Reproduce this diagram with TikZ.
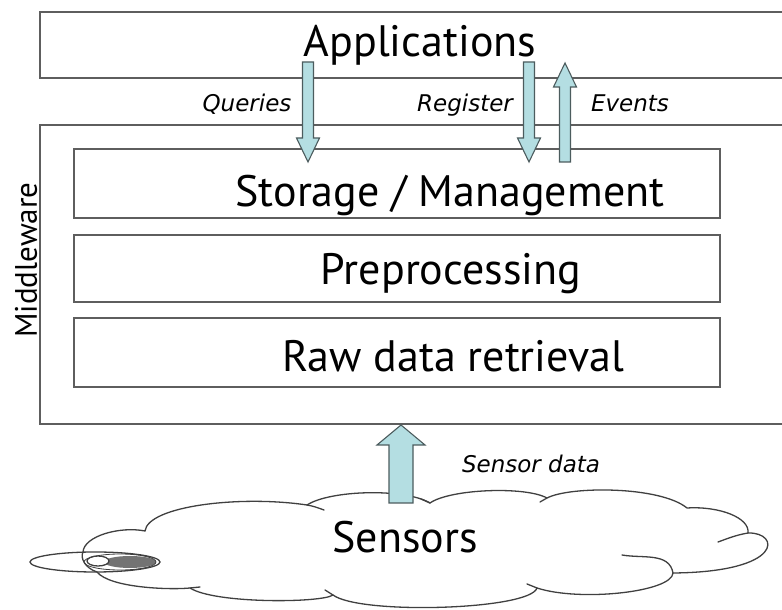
\documentclass[tikz,border=0pt]{standalone}
\usepackage{fontspec}
\setmainfont{PT Sans}
\newfontfamily\lblfont{DejaVu Sans}
\usetikzlibrary{calc}

\definecolor{framegray}{HTML}{5E5E5E}
\definecolor{arrowfill}{HTML}{B4DEE2}
\definecolor{arrowline}{HTML}{4C5C5E}
\definecolor{cloudline}{HTML}{404040}

\tikzset{
  layerbox/.style={draw=framegray, line width=1.8pt, fill=white, inner sep=0pt},
  maintext/.style={font=\fontsize{44}{50}\selectfont, inner sep=0pt, anchor=base},
  flowlabel/.style={font=\lblfont\itshape\fontsize{23}{28}\selectfont, inner sep=0pt, anchor=base},
  blockarrowstyle/.style={draw=arrowline, fill=arrowfill, line width=1.1pt, line join=miter},
  cloudstroke/.style={draw=cloudline, line width=1.3pt, line cap=round}
}

% vertical block arrow from #1 to the tip #2; half shaft, half head, head length
\newcommand{\blockarrow}[5]{%
  \path[blockarrowstyle] let \p1=(#1), \p2=(#2), \p3=($(#2)!#5!(#1)$) in
    (\x1-#3,\y1) -- (\x1-#3,\y3) -- (\x1-#4,\y3) -- (\x2,\y2)
    -- (\x1+#4,\y3) -- (\x1+#3,\y3) -- (\x1+#3,\y1) -- cycle;
}

\begin{document}
\begin{tikzpicture}[x=1pt, y=1pt]
\useasboundingbox (0,0) rectangle (782,610);
\clip (0,0) rectangle (782,610);

% application layer
\node[layerbox, minimum width=760pt, minimum height=66pt] (app) at (420,565) {};
\node[maintext] (appT) at (420,553) {Applications};

% middleware with its three layers
\node[layerbox, minimum width=760pt, minimum height=299pt] (mw) at (420,335.5) {};
\node[font=\fontsize{31}{35}\selectfont, rotate=90, inner sep=0pt] (mwT) at (26,350) {Middleware};
\node[layerbox, minimum width=646pt, minimum height=69pt] (store) at (397,426.5) {};
\node[layerbox, minimum width=646pt, minimum height=67pt] (prep) at (397,341.5) {};
\node[layerbox, minimum width=646pt, minimum height=69pt] (raw) at (397,257.5) {};
\node[maintext] (storeT) at (450,403) {Storage / Management};
\node[maintext] (prepT) at (451,325) {Preprocessing};
\node[maintext] (rawT) at (453,238) {Raw data retrieval};

% sensor cloud: cusps between the puffs
\coordinate (cA) at (83,58);
\coordinate (cB) at (145,79);
\coordinate (cC) at (307,105);
\coordinate (cD) at (430,107);
\coordinate (cE) at (547,112);
\coordinate (cF) at (687,102);
\coordinate (cG) at (748,77);
\coordinate (cH) at (673,37);
\coordinate (cI) at (537,22);
\coordinate (cJ) at (333,15);
\coordinate (cK) at (190,22);
\coordinate (cL) at (97,38);
\path[cloudstroke, fill=white]
  (cA) .. controls (84,74) and (120,84) .. (cB)
       .. controls (148,104) and (240,115) .. (cC)
       .. controls (330,120) and (405,122) .. (cD)
       .. controls (450,121) and (525,124) .. (cE)
       .. controls (570,124) and (660,124) .. (cF)
       .. controls (720,104) and (750,92) .. (cG)
       .. controls (780,78) and (785,38) .. (cH)
       .. controls (672,18) and (580,8) .. (cI)
       .. controls (530,0) and (360,-5) .. (cJ)
       .. controls (322,7) and (215,6) .. (cK)
       .. controls (170,20) and (110,22) .. (cL)
       .. controls (85,42) and (80,52) .. (cA) -- cycle;
% small curls at the cusps
\draw[cloudstroke] (cC) to[out=-10, in=160] ++(17,-5);
\draw[cloudstroke] (cD) -- ++(-9,4);
\draw[cloudstroke] (cE) -- ++(-7,-4);
\draw[cloudstroke] (cG) to[out=-170, in=20] ++(-30,-9);
\draw[cloudstroke] (622,55) to[out=-10, in=100] (cH);
\draw[cloudstroke] (cI) -- ++(-10,4);
\draw[cloudstroke] (cJ) -- ++(-8,5);
\draw[cloudstroke] (cK) -- ++(10,1);
% small disc at the left edge
\draw[cloudstroke] (95,48) ellipse[x radius=65pt, y radius=10pt];
\fill[black!55] (130,48) ellipse[x radius=26pt, y radius=6pt];
\draw[cloudstroke, fill=white] (98,49) ellipse[x radius=11pt, y radius=5pt];
\draw[cloudstroke, line width=0.8pt] (120,48) ellipse[x radius=36pt, y radius=8pt];
\node[maintext] (sensors) at (405,57) {Sensors};

% data flows
\coordinate (qS) at (308,548);
\coordinate (qT) at (308,448);
\coordinate (rS) at (529,548);
\coordinate (rT) at (529,448);
\coordinate (eS) at (565,448);
\coordinate (eT) at (565,547);
\coordinate (sS) at (401,107);
\coordinate (sT) at (401,185);
\blockarrow{qS}{qT}{5.5pt}{11.5pt}{24pt}
\blockarrow{rS}{rT}{5.5pt}{11.5pt}{24pt}
\blockarrow{eS}{eT}{5.5pt}{11.5pt}{24pt}
\blockarrow{sS}{sT}{12pt}{24pt}{20pt}

\node[flowlabel] (qL) at (247,498) {Queries};
\node[flowlabel] (rL) at (465,498) {Register};
\node[flowlabel] (eL) at (630,498) {Events};
\node[flowlabel] (sL) at (531,137) {Sensor data};
\end{tikzpicture}
\end{document}
